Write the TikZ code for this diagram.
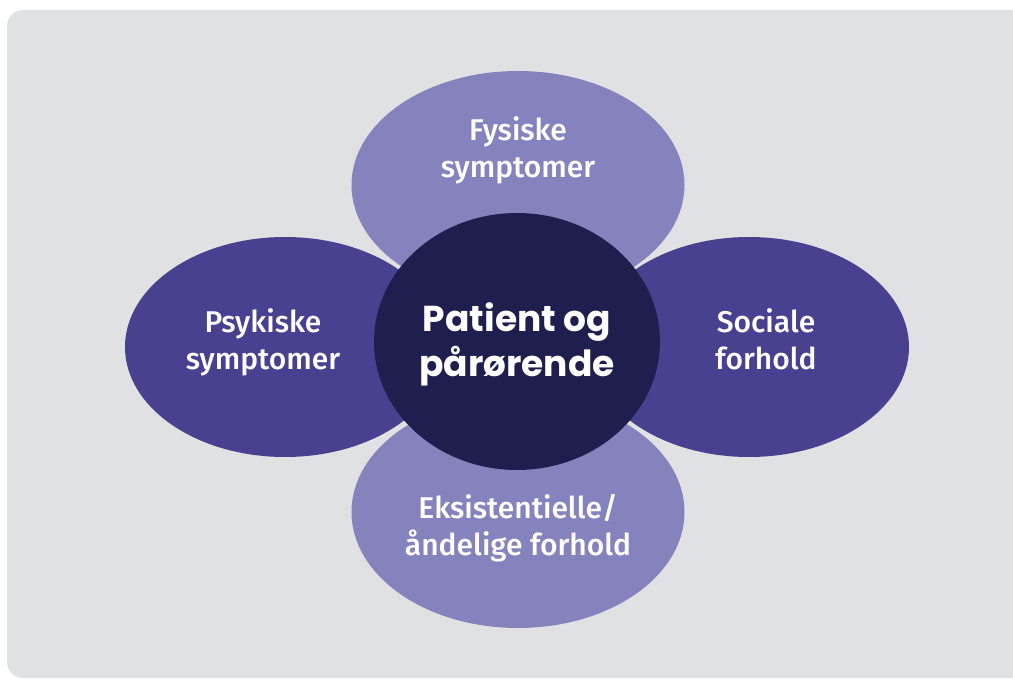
\documentclass[tikz,border=0pt]{standalone}
\usepackage{fontspec}
\usepackage{xcolor}
\usetikzlibrary{shapes.geometric}
\newfontfamily\petalfont{Fira Sans Medium}
\newfontfamily\hubfont{Poppins Bold}
\definecolor{panelgray}{HTML}{E0E1E3}
\definecolor{lilac}{HTML}{8583BD}
\definecolor{violet}{HTML}{47418F}
\definecolor{navy}{HTML}{1F1F4F}

\begin{document}
\begin{tikzpicture}[x=1pt, y=-1pt,
  petal/.style={ellipse, inner sep=0pt},
  petaltext/.style={text=white, align=center, anchor=base, inner sep=0pt,
    font=\petalfont\fontsize{30}{37}\selectfont}]
\useasboundingbox (0,0) rectangle (1013,679);
\fill[panelgray, rounded corners=16pt] (7,10) rectangle (1045,678);
% Top and bottom petals
\node[petal, fill=lilac, minimum width=333, minimum height=228] (fysisk) at (518,185) {};
\node[petal, fill=lilac, minimum width=333, minimum height=232] (eksist) at (518,512) {};
% Left and right petals
\node[petal, fill=violet, minimum width=320, minimum height=220] (psykisk) at (285,347) {};
\node[petal, fill=violet, minimum width=320, minimum height=220] (social) at (749,347) {};
% Centre
\node[petal, fill=navy, minimum width=286, minimum height=257] (patient) at (517,341.5) {};
% Texts (placed at the baseline of their last line)
\node[petaltext] (fysisk-txt) at (518,178) {Fysiske\\symptomer};
\node[petaltext] (psykisk-txt) at (263,370) {Psykiske\\symptomer};
\node[petaltext] (social-txt) at (766,370) {Sociale\\forhold};
\node[petaltext] (eksist-txt) at (518,555) {Eksistentielle/\\åndelige forhold};
\node[petaltext, font=\hubfont\fontsize{36}{45}\selectfont] (patient-txt) at (517,377) {Patient og\\pårørende};
\end{tikzpicture}
\end{document}
